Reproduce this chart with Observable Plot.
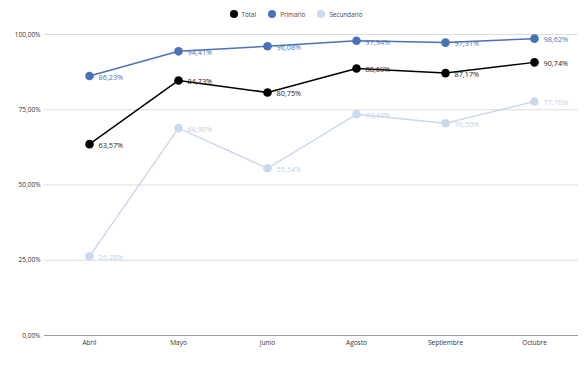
<!DOCTYPE html>
<html><head><meta charset="utf-8">
<script src="https://cdn.jsdelivr.net/npm/d3@7"></script>
<script src="https://cdn.jsdelivr.net/npm/@observablehq/plot@0.6"></script>
<style>
body{margin:0;background:#fff;font-family:"Open Sans",sans-serif;}
#legend{height:28px;display:flex;justify-content:center;align-items:center;gap:12px;font-size:6.3px;color:#444;padding-left:8px;box-sizing:border-box;}
#legend span{display:flex;align-items:center;gap:4px;}
#legend i{display:inline-block;width:8px;height:8px;border-radius:50%;}
</style></head><body>
<div id="legend"></div>
<div id="chart"></div>
<script>
const months = ["Abril","Mayo","Junio","Agosto","Septiembre","Octubre"];
const seriesNames = ["Total","Primario","Secundario"];
const seriesColors = ["#000000","#4a72b8","#cbd8ee"];
const labelColors = ["#222222","#4a72b8","#c3d1ec"];
const total = [63.57,84.73,80.75,88.69,87.17,90.74];
const primario = [86.23,94.41,96.08,97.94,97.31,98.62];
const secundario = [26.28,68.90,55.54,73.49,70.50,77.76];
const yTicks = [0,25,50,75,100];

const fmt = v => v.toFixed(2).replace(".", ",") + "%";
const values = [total, primario, secundario];
const data = [];
seriesNames.forEach((s,i) => months.forEach((m,j) => data.push({serie:s, mes:m, v:values[i][j]})));

const leg = document.getElementById("legend");
seriesNames.forEach((s,i)=>{
  const sp=document.createElement("span");
  sp.innerHTML=`<i style="background:${seriesColors[i]}"></i>${s}`;
  leg.appendChild(sp);
});

const order = ["Secundario","Primario","Total"];
const plot = Plot.plot({
  width:584, height:341,
  marginTop:6, marginBottom:34, marginLeft:44, marginRight:6,
  style:{fontFamily:"Open Sans, sans-serif", fontSize:"6.5px", color:"#333"},
  x:{type:"point", domain:months, padding:0.5, label:null, tickSize:0, tickPadding:5},
  y:{domain:[0,100], ticks:yTicks, tickFormat:fmt, label:null, tickSize:0, tickPadding:4},
  color:{domain:seriesNames, range:seriesColors},
  marks:[
    Plot.gridY(yTicks.filter(d=>d>0), {stroke:"#dcdcdc", strokeOpacity:1, strokeWidth:1}),
    Plot.ruleY([0], {stroke:"#a0a0a0", strokeWidth:1}),
    ...order.map(s => Plot.line(data.filter(d=>d.serie===s), {x:"mes", y:"v", stroke:seriesColors[seriesNames.indexOf(s)], strokeWidth:1.5})),
    ...order.map(s => Plot.dot(data.filter(d=>d.serie===s), {x:"mes", y:"v", fill:seriesColors[seriesNames.indexOf(s)], r:4.3})),
    ...order.map(s => Plot.text(data.filter(d=>d.serie===s), {x:"mes", y:"v", text:d=>fmt(d.v), fill:labelColors[seriesNames.indexOf(s)], textAnchor:"start", dx:9, dy:1.5, fontSize:7.3}))
  ]
});
document.getElementById("chart").appendChild(plot);
</script>
</body></html>
